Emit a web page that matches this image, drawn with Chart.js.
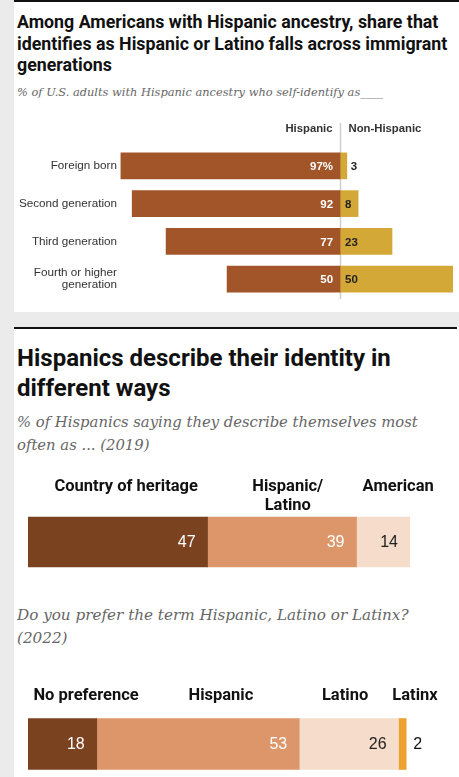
<!DOCTYPE html>
<html>
<head>
<meta charset="utf-8">
<script src="https://cdn.jsdelivr.net/npm/chart.js@4.4.1/dist/chart.umd.min.js"></script>
<style>
  body { margin: 0; background: #fff; }
  #page { position: relative; width: 459px; height: 777px; overflow: hidden; background: #fff; }
  .abs { position: absolute; }
  .strip { left: 0; top: 0; width: 14px; height: 777px; background: #ebebeb; }
  .band { left: 14px; top: 312px; width: 445px; height: 15px; background: #ebebeb; }
  .rule { background: #111; height: 2px; }
  .title { font-family: Roboto, "Liberation Sans", sans-serif; font-weight: 700; color: #111; white-space: nowrap; }
  .sub { font-family: "DejaVu Serif", serif; font-style: italic; color: #666; white-space: nowrap; }
  canvas { position: absolute; left: 0; }
</style>
</head>
<body>
<div id="page">
  <div class="abs strip"></div>
  <div class="abs rule" style="left:14px;top:0;width:445px;"></div>
  <div class="abs title" style="left:17px;top:11px;font-size:17.8px;line-height:21.5px;">Among Americans with Hispanic ancestry, share that<br>identifies as Hispanic or Latino falls across immigrant<br>generations</div>
  <div class="abs sub" style="left:17px;top:85px;font-size:11.4px;line-height:14px;">% of U.S. adults with Hispanic ancestry who self-identify as____</div>
  <canvas id="one" width="459" height="200" style="top:110px"></canvas>

  <div class="abs band"></div>
  <div class="abs rule" style="left:14px;top:327px;width:443px;"></div>
  <div class="abs title" style="left:17px;top:343px;font-size:24px;line-height:30px;">Hispanics describe their identity in<br>different ways</div>
  <div class="abs sub" style="left:17px;top:410px;font-size:14.8px;line-height:23px;">% of Hispanics saying they describe themselves most<br>often as ... (2019)</div>
  <canvas id="two" width="459" height="120" style="top:460px"></canvas>

  <div class="abs sub" style="left:17px;top:604px;font-size:15.2px;line-height:23px;">Do you prefer the term Hispanic, Latino or Latinx?<br>(2022)</div>
  <canvas id="three" width="459" height="127" style="top:650px"></canvas>
</div>
<script>
  // chart 1: identity by immigrant generation
  var generations = ['Foreign born', 'Second generation', 'Third generation', ['Fourth or higher', 'generation']];
  var hispanicShare = [97, 92, 77, 50];
  var nonHispanicShare = [3, 8, 23, 50];

  // chart 2: how Hispanics describe themselves (2019)
  var describeLabels = ['Country of heritage', ['Hispanic/', 'Latino'], 'American'];
  var describeValues = [47, 39, 14];

  // chart 3: preferred term (2022)
  var termLabels = ['No preference', 'Hispanic', 'Latino', 'Latinx'];
  var termValues = [18, 53, 26, 2];

  var sans = 'Roboto, "Liberation Sans", sans-serif';
  var num = '"Liberation Sans", Arial, sans-serif';

  // header text + vertical zero line for the diverging chart
  var divergingDecor = {
    id: 'divergingDecor',
    beforeDatasetsDraw: function(chart) {
      var ctx = chart.ctx, x = chart.scales.x, area = chart.chartArea;
      var zero = Math.round(x.getPixelForValue(0)) + 0.5;
      ctx.save();
      ctx.strokeStyle = '#cfcfcf';
      ctx.lineWidth = 1.5;
      ctx.beginPath();
      ctx.moveTo(zero, area.top - 24);
      ctx.lineTo(zero, area.bottom + 1);
      ctx.stroke();
      ctx.fillStyle = '#333';
      ctx.font = 'bold 11.3px ' + num;
      ctx.textBaseline = 'alphabetic';
      ctx.textAlign = 'right';
      ctx.fillText(chart.data.datasets[0].label, zero - 8, area.top - 15);
      ctx.textAlign = 'left';
      ctx.fillText(chart.data.datasets[1].label, zero + 8, area.top - 15);
      ctx.restore();
    },
    afterDatasetsDraw: function(chart) {
      var ctx = chart.ctx;
      var zero = chart.scales.x.getPixelForValue(0);
      ctx.save();
      ctx.font = 'bold 11.5px ' + num;
      ctx.textBaseline = 'middle';
      chart.getDatasetMeta(0).data.forEach(function(bar, i) {
        ctx.fillStyle = '#fff';
        ctx.textAlign = 'right';
        ctx.fillText(hispanicShare[i] + (i === 0 ? '%' : ''), zero - 7, bar.y + 1);
      });
      chart.getDatasetMeta(1).data.forEach(function(bar, i) {
        ctx.fillStyle = '#222';
        ctx.textAlign = 'left';
        var w = bar.x - bar.base;
        ctx.fillText(nonHispanicShare[i], w < 12 ? bar.x + 4 : zero + 5, bar.y + 1);
      });
      ctx.restore();
    }
  };

  var ctxOne = document.getElementById('one').getContext('2d');
  var chartOne = new Chart(ctxOne, {
    type: 'bar',
    data: {
      labels: generations,
      datasets: [{
        label: 'Hispanic',
        backgroundColor: '#a3552a',
        data: hispanicShare.map(function(v) { return -v; }),
        barThickness: 26
      }, {
        label: 'Non-Hispanic',
        backgroundColor: '#d4a837',
        data: nonHispanicShare,
        barThickness: 26
      }]
    },
    options: {
      indexAxis: 'y',
      responsive: false,
      animation: false,
      devicePixelRatio: 1,
      layout: { padding: { top: 37, bottom: 12, right: 6, left: 0 } },
      plugins: { legend: { display: false }, tooltip: { enabled: false } },
      scales: {
        x: { stacked: true, min: -97.4, max: 50, display: false },
        y: {
          stacked: true,
          border: { display: false },
          grid: { display: false, drawTicks: false },
          afterFit: function(s) { s.width = 120; },
          ticks: { padding: 3, color: '#333', font: { family: num, size: 11.7, lineHeight: 1.05 } }
        }
      }
    },
    plugins: [divergingDecor]
  });

  // headers above segments + value labels inside segments
  var segmentText = {
    id: 'segmentText',
    afterDatasetsDraw: function(chart, args, opts) {
      var ctx = chart.ctx, x = chart.scales.x, area = chart.chartArea;
      ctx.save();
      ctx.font = 'bold 16.5px ' + sans;
      ctx.fillStyle = '#111';
      ctx.textAlign = 'center';
      ctx.textBaseline = 'alphabetic';
      opts.headers.forEach(function(h, i) {
        var lines = [].concat(h);
        lines.forEach(function(t, k) {
          ctx.fillText(t, x.getPixelForValue(opts.headerAt[i]), area.top - opts.headerGap + k * 19);
        });
      });
      ctx.font = '16px ' + num;
      ctx.textBaseline = 'middle';
      chart.data.datasets.forEach(function(ds, i) {
        var bar = chart.getDatasetMeta(i).data[0];
        var w = bar.x - bar.base;
        if (w < 14) {
          ctx.fillStyle = '#111';
          ctx.textAlign = 'left';
          ctx.fillText(ds.data[0], bar.x + 7, bar.y + 1);
        } else {
          ctx.fillStyle = ds.textColor;
          ctx.textAlign = 'right';
          ctx.fillText(ds.data[0], bar.x - 12, bar.y + 1);
        }
      });
      ctx.restore();
    }
  };

  function stackedOptions(padTop, padBottom, headers, headerAt, headerGap) {
    return {
      indexAxis: 'y',
      responsive: false,
      animation: false,
      devicePixelRatio: 1,
      layout: { padding: { top: padTop, bottom: padBottom, left: 28, right: 49 } },
      plugins: {
        legend: { display: false },
        tooltip: { enabled: false },
        segmentText: { headers: headers, headerAt: headerAt, headerGap: headerGap }
      },
      scales: {
        x: { stacked: true, min: 0, max: 100, display: false },
        y: { stacked: true, display: false }
      }
    };
  }

  var describeColors = ['#7b4220', '#dc966a', '#f5dccb'];
  var describeText = ['#fff', '#fff', '#222'];
  var ctxTwo = document.getElementById('two').getContext('2d');
  var chartTwo = new Chart(ctxTwo, {
    type: 'bar',
    data: {
      labels: [''],
      datasets: describeValues.map(function(v, i) {
        return { label: describeLabels[i], data: [v], backgroundColor: describeColors[i], textColor: describeText[i], barThickness: 50 };
      })
    },
    options: stackedOptions(52, 8, describeLabels, [25.7, 68, 96.9], 21),
    plugins: [segmentText]
  });

  var termColors = ['#7b4220', '#dc966a', '#f5dccb', '#eba22f'];
  var termText = ['#fff', '#fff', '#222', '#222'];
  var ctxThree = document.getElementById('three').getContext('2d');
  var chartThree = new Chart(ctxThree, {
    type: 'bar',
    data: {
      labels: [''],
      datasets: termValues.map(function(v, i) {
        return { label: termLabels[i], data: [v], backgroundColor: termColors[i], textColor: termText[i], barThickness: 51 };
      })
    },
    options: stackedOptions(64, 3, termLabels, [15.2, 50.5, 83, 101.3], 14),
    plugins: [segmentText]
  });
</script>
</body>
</html>
